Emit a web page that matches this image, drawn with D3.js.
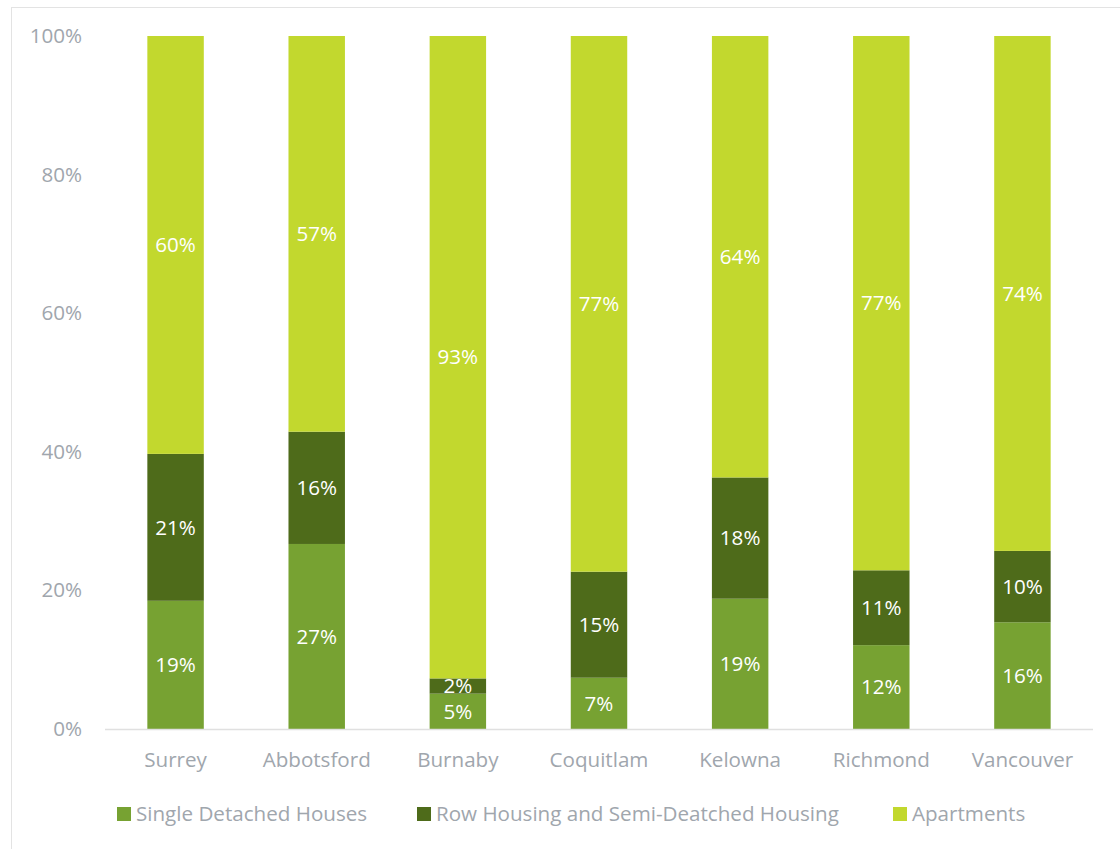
<!DOCTYPE html>
<html><head><meta charset="utf-8">
<script src="https://cdn.jsdelivr.net/npm/d3@7"></script>
<style>body{margin:0;background:#fff;}svg{display:block;}text{font-family:"Open Sans",sans-serif;}</style>
</head><body>
<svg id="c" width="1120" height="849"></svg>
<script>
const cities = ["Surrey","Abbotsford","Burnaby","Coquitlam","Kelowna","Richmond","Vancouver"];
const seriesNames = ["Single Detached Houses","Row Housing and Semi-Deatched Housing","Apartments"];
const single = [0.185,0.267,0.051,0.074,0.188,0.121,0.154];
const row = [0.212,0.162,0.022,0.153,0.175,0.108,0.103];
const apartments = [0.603,0.571,0.927,0.773,0.637,0.771,0.743];
const singleLabels = ["19%","27%","5%","7%","19%","12%","16%"];
const rowLabels = ["21%","16%","2%","15%","18%","11%","10%"];
const aptLabels = ["60%","57%","93%","77%","64%","77%","74%"];
const yTicks = [0,0.2,0.4,0.6,0.8,1.0];
const colors = ["#77a232","#4e6b1a","#c2d82e"];
const FONT = "'Open Sans',sans-serif";
const FS = 20.6;

const svg = d3.select("#c");
svg.append("rect").attr("x",11.5).attr("y",7.5).attr("width",1130).attr("height",860)
  .attr("fill","none").attr("stroke","#e3e3e3").attr("stroke-width",1);

const x = d3.scaleBand().domain(cities).range([105,1093]).paddingInner(0.6).paddingOuter(0.3);
const y = d3.scaleLinear().domain([0,1]).range([729,36]);

const data = cities.map((c,i)=>({city:c, v:[single[i],row[i],apartments[i]], l:[singleLabels[i],rowLabels[i],aptLabels[i]]}));

data.forEach(d=>{
  let cum=0;
  d.v.forEach((v,k)=>{
    const y0=y(cum), y1=y(cum+v);
    svg.append("rect").attr("x",x(d.city)).attr("width",x.bandwidth())
      .attr("y",y1).attr("height",y0-y1).attr("fill",colors[k]);
    svg.append("text").attr("x",x(d.city)+x.bandwidth()/2).attr("y",(y0+y1)/2)
      .attr("dy","0.35em").attr("text-anchor","middle").attr("fill","#fff")
      .attr("font-size",FS).text(d.l[k]);
    cum+=v;
  });
});

svg.append("line").attr("x1",105).attr("x2",1093).attr("y1",729.5).attr("y2",729.5)
  .attr("stroke","#e0e0e0").attr("stroke-width",1.5);

const ya = svg.append("g").attr("transform","translate(82,0)")
  .call(d3.axisLeft(y).tickValues(yTicks).tickFormat(d3.format(".0%")).tickSize(0).tickPadding(0));
ya.select(".domain").remove();
ya.selectAll("text").attr("font-size",FS).attr("fill","#a0a6ad").attr("font-family",FONT);

const xa = svg.append("g").attr("transform","translate(0,729)")
  .call(d3.axisBottom(x).tickSize(0).tickPadding(23));
xa.select(".domain").remove();
xa.selectAll("text").attr("font-size",FS).attr("fill","#a0a6ad").attr("font-family",FONT);

const legX = [117,417,893];
seriesNames.forEach((s,k)=>{
  const g = svg.append("g").attr("transform",`translate(${legX[k]},807)`);
  g.append("rect").attr("width",14).attr("height",14).attr("fill",colors[k]);
  g.append("text").attr("x",19).attr("y",7).attr("dy","0.35em").attr("font-size",FS)
    .attr("fill","#a0a6ad").text(s);
});
</script>
</body></html>
